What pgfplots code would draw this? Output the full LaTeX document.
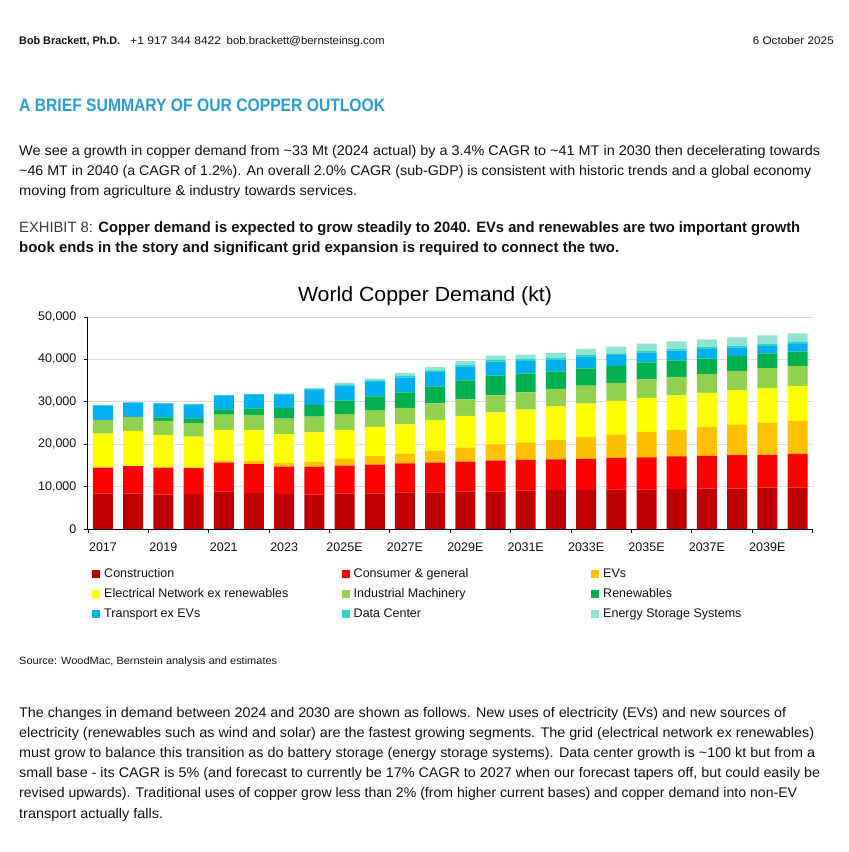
\documentclass[border=0pt]{standalone}
\usepackage{fontspec}
\setmainfont{Liberation Sans}
\usepackage{graphicx}
\usepackage{pgfplots}
\usepackage{pgfplotstable}
\pgfplotsset{compat=1.18}

\definecolor{cConstr}{HTML}{C00000}
\definecolor{cCons}{HTML}{FF0000}
\definecolor{cEV}{HTML}{FFC000}
\definecolor{cElec}{HTML}{FFFF00}
\definecolor{cInd}{HTML}{92D050}
\definecolor{cRen}{HTML}{00B050}
\definecolor{cTrans}{HTML}{00B0F0}
\definecolor{cDC}{HTML}{2DD4BF}
\definecolor{cESS}{HTML}{8FE3D2}
\definecolor{headblue}{HTML}{2A9BD8}
\definecolor{txt}{HTML}{111111}
\definecolor{exgray}{HTML}{3A3A3A}

\pgfplotstableread{
idx C Cons EV Elec Ind Ren Trans DC ESS
0 8400 6100 0 8000 3200 0 3400 100 0
1 8350 6500 0 8300 3300 0 3300 100 0
2 8100 6400 0 7700 3300 800 3300 100 0
3 8200 6200 0 7400 3200 1100 3300 100 0
4 8900 6750 450 7300 3600 1200 3300 150 0
5 8500 6800 700 7400 3500 1550 3200 200 0
6 8300 6400 850 6800 3700 2500 3200 200 0
7 8100 6600 1200 6900 3700 2800 3450 250 200
8 8400 6550 1600 6850 3700 3200 3500 300 300
9 8400 6800 2000 6900 3800 3400 3400 350 400
10 8650 6800 2350 6900 3850 3700 3450 400 700
11 8650 7000 2850 7250 3850 4000 3400 400 800
12 8900 7000 3300 7500 3850 4500 3300 400 850
13 8900 7250 3800 7550 4000 4700 3300 400 1000
14 9050 7250 4150 7700 4100 4400 3000 400 1100
15 9150 7300 4550 7900 4150 4150 2750 400 1150
16 9150 7400 5200 7800 4250 4100 2700 400 1500
17 9300 7450 5450 8000 4250 4000 2600 400 1550
18 9300 7600 6000 8000 4400 4000 2300 400 1700
19 9400 7700 6300 8100 4400 3850 2300 400 1800
20 9500 7750 6850 8000 4500 3600 2300 400 1800
21 9500 7900 7150 8200 4550 3550 2000 400 1950
22 9750 7700 7650 8200 4650 3450 1900 400 1950
23 9750 7950 7800 8250 4700 3400 1900 400 2000
}\demand

\pgfplotsset{sq/.style={legend image code/.code={\fill[##1] (0pt,-4pt) rectangle (8pt,4pt);}}}

\newcommand{\bodyf}{\fontsize{14}{20}\selectfont}
\newcommand{\tl}[3]{\node[anchor=base west,inner sep=0pt,text=txt] at (19pt,#1pt) {\resizebox{#2pt}{\height}{#3}};}
\newcommand{\lgE}[1]{\makebox[236.5pt][l]{#1}}

\begin{document}
\begin{tikzpicture}
\path[use as bounding box, fill=white] (0pt,0pt) rectangle (849pt,852pt);

% header
\begin{scope}[every node/.style={inner sep=0pt,text=txt,font=\fontsize{11}{13}\selectfont}]
\node[anchor=base west] at (19pt,807pt) {\resizebox{101pt}{\height}{\bfseries Bob Brackett, Ph.D.}};
\node[anchor=base west] at (130pt,807pt) {\resizebox{91pt}{\height}{+1 917 344 8422}};
\node[anchor=base west] at (226.5pt,807pt) {\resizebox{158pt}{\height}{bob.brackett@bernsteinsg.com}};
\node[anchor=base east] at (834pt,807pt) {\resizebox{81pt}{\height}{6 October 2025}};
\end{scope}

% heading
\node[anchor=base west,inner sep=0pt,text=headblue,font=\fontsize{18}{20}\selectfont\bfseries] at (19pt,740pt) {\resizebox{366pt}{\height}{A BRIEF SUMMARY OF OUR COPPER OUTLOOK}};

% paragraph 1
\begin{scope}[every node/.style={font=\bodyf}]
\tl{696}{801}{We see a growth in copper demand from \textasciitilde33 Mt (2024 actual) by a 3.4\% CAGR to \textasciitilde41 MT in 2030 then decelerating towards}
\tl{676}{792}{\textasciitilde46 MT in 2040 (a CAGR of 1.2\%). An overall 2.0\% CAGR (sub-GDP) is consistent with historic trends and a global economy}
\tl{656}{338}{moving from agriculture \& industry towards services.}
\end{scope}

% exhibit
\begin{scope}[every node/.style={font=\fontsize{15}{20}\selectfont}]
\tl{619}{781}{{\color{exgray}EXHIBIT 8: }\textbf{Copper demand is expected to grow steadily to 2040. EVs and renewables are two important growth}}
\tl{599}{600}{\textbf{book ends in the story and significant grid expansion is required to connect the two.}}
\end{scope}

% chart title
\node[anchor=base,inner sep=0pt,text=black,font=\fontsize{20.5}{22}\selectfont] at (425pt,550pt) {\resizebox{254pt}{\height}{World Copper Demand (kt)}};

\begin{axis}[
  at={(87.9pt,323pt)}, anchor=south west,
  scale only axis, width=724.7pt, height=212pt,
  ybar stacked, bar width=20pt,
  xmin=-0.5, xmax=23.5, ymin=0, ymax=50000,
  axis x line*=bottom, axis y line*=left,
  axis line style={black, line width=0.9pt, -},
  xtick={-0.5,1.5,...,23.5}, xticklabels={},
  extra x ticks={0,2,...,22},
  extra x tick labels={2017,2019,2021,2023,2025E,2027E,2029E,2031E,2033E,2035E,2037E,2039E},
  extra x tick style={major tick length=0pt, grid=none},
  ytick={0,10000,20000,30000,40000,50000},
  scaled y ticks=false,
  /pgf/number format/fixed,
  /pgf/number format/1000 sep={,},
  /pgf/number format/assume math mode=true,
  ymajorgrids, xmajorgrids=false,
  grid style={draw=black!14, line width=0.7pt},
  tick align=outside, major tick length=4pt,
  tick style={black, line width=0.8pt},
  tick label style={font=\fontsize{12.5}{14}\selectfont, text=txt},
  xticklabel style={yshift=-10pt},
  yticklabel style={xshift=-4pt},
  legend columns=3,
  legend cell align=left,
  legend style={at={(axis description cs:0.0057,-0.18)}, anchor=north west,
    draw=none, fill=none, inner sep=0pt, row sep=7.5pt,
    font=\fontsize{12.5}{14}\selectfont, text=txt,
    nodes={inner sep=1pt},
    /tikz/every odd column/.append style={column sep=3pt}},
]
\addplot[fill=cConstr, draw=none, sq] table[x=idx,y=C]{\demand};
\addplot[fill=cCons, draw=none, sq] table[x=idx,y=Cons]{\demand};
\addplot[fill=cEV, draw=none, sq] table[x=idx,y=EV]{\demand};
\addplot[fill=cElec, draw=none, sq] table[x=idx,y=Elec]{\demand};
\addplot[fill=cInd, draw=none, sq] table[x=idx,y=Ind]{\demand};
\addplot[fill=cRen, draw=none, sq] table[x=idx,y=Ren]{\demand};
\addplot[fill=cTrans, draw=none, sq] table[x=idx,y=Trans]{\demand};
\addplot[fill=cDC, draw=none, sq] table[x=idx,y=DC]{\demand};
\addplot[fill=cESS, draw=none, sq] table[x=idx,y=ESS]{\demand};
\legend{\lgE{Construction},\lgE{Consumer \& general},\lgE{EVs},
  \lgE{Electrical Network ex renewables},\lgE{Industrial Machinery},\lgE{Renewables},
  \lgE{Transport ex EVs},\lgE{Data Center},\lgE{Energy Storage Systems}}
\end{axis}

% source
\node[anchor=base west,inner sep=0pt,text=txt,font=\fontsize{10.5}{12}\selectfont] at (19pt,187pt) {\resizebox{258pt}{\height}{Source: WoodMac, Bernstein analysis and estimates}};

% paragraph 2
\begin{scope}[every node/.style={font=\bodyf}]
\tl{134}{767}{The changes in demand between 2024 and 2030 are shown as follows. New uses of electricity (EVs) and new sources of}
\tl{114}{795}{electricity (renewables such as wind and solar) are the fastest growing segments. The grid (electrical network ex renewables)}
\tl{94}{796}{must grow to balance this transition as do battery storage (energy storage systems). Data center growth is \textasciitilde100 kt but from a}
\tl{74}{801}{small base - its CAGR is 5\% (and forecast to currently be 17\% CAGR to 2027 when our forecast tapers off, but could easily be}
\tl{54}{778}{revised upwards). Traditional uses of copper grow less than 2\% (from higher current bases) and copper demand into non-EV}
\tl{34}{144}{transport actually falls.}
\end{scope}
\end{tikzpicture}
\end{document}
